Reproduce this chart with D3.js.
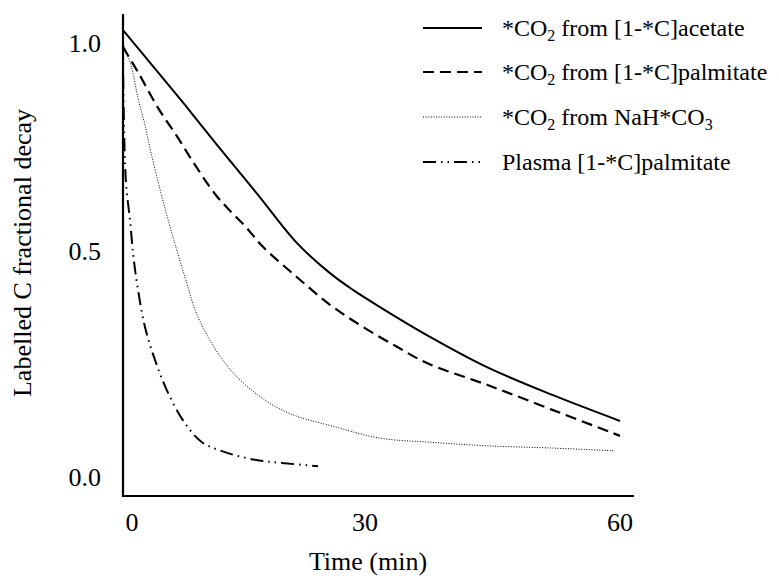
<!DOCTYPE html>
<html>
<head>
<meta charset="utf-8">
<script src="https://cdn.jsdelivr.net/npm/d3@7"></script>
<style>
  body { margin: 0; background: #fff; }
</style>
</head>
<body>
<svg id="chart" width="779" height="581"></svg>
<script>
// ---- data (time in min, fractional decay) ----
const acetateTime   = [-1.16, 2.45, 6.82, 11.07, 16.22, 21.25, 25.49, 28.45, 31.76, 37.65, 44.35, 52.12, 60];
const acetateValue  = [1.031, 0.950, 0.851, 0.752, 0.635, 0.519, 0.451, 0.414, 0.376, 0.310, 0.243, 0.181, 0.124];

const palmCO2Time   = [-1.16, 0.77, 3.35, 5.92, 8.11, 10.69, 12.75, 14.55, 16.87, 21.25, 25.49, 29.74, 33.76, 37.29, 44.35, 52.12, 60];
const palmCO2Value  = [0.990, 0.930, 0.844, 0.772, 0.707, 0.637, 0.594, 0.560, 0.510, 0.442, 0.381, 0.332, 0.288, 0.252, 0.204, 0.148, 0.091];

const bicarbTime    = [-1.16, -0.13, 0.77, 1.67, 2.45, 3.73, 5.02, 6.82, 8.50, 11.97, 15.84, 20.09, 26.14, 31.76, 37.65, 44.35, 52.12, 59.29];
const bicarbValue   = [0.998, 0.947, 0.868, 0.803, 0.736, 0.639, 0.550, 0.442, 0.354, 0.252, 0.186, 0.142, 0.111, 0.086, 0.077, 0.069, 0.064, 0.058];

const plasmaTime    = [-1.16, -1.09, -0.77, -0.26, 0.13, 0.64, 1.67, 2.96, 4.64, 6.82, 9.01, 11.97, 15.84, 19.31, 23.95];
const plasmaValue   = [0.995, 0.863, 0.663, 0.575, 0.496, 0.429, 0.332, 0.259, 0.186, 0.119, 0.077, 0.055, 0.038, 0.031, 0.024];

const xTicks = [0, 30, 60];
const yTicks = [0.0, 0.5, 1.0];
const seriesNames = ["*CO2 from [1-*C]acetate", "*CO2 from [1-*C]palmitate", "*CO2 from NaH*CO3", "Plasma [1-*C]palmitate"];

const FONT = "Liberation Serif";

// ---- scales (the original axis is slightly non-uniform, so polylinear) ----
const x = d3.scaleLinear().domain([0, 30, 60]).range([132, 365, 620]);
const y = d3.scaleLinear().domain([0, 0.5, 1]).range([477, 251, 43]);

const svg = d3.select("#chart");

const styles = [
  { dash: null,               width: 2.0 },
  { dash: "11,6",             width: 2.2 },
  { dash: "1,1.6",            width: 1.0 },
  { dash: "13,5,1.5,5,1.5,5", width: 2.0 }
];

const series = [
  { t: acetateTime, v: acetateValue },
  { t: palmCO2Time, v: palmCO2Value },
  { t: bicarbTime,  v: bicarbValue },
  { t: plasmaTime,  v: plasmaValue }
];

const line = d3.line().x(d => x(d[0])).y(d => y(d[1])).curve(d3.curveCatmullRom.alpha(0.5));

series.forEach((s, i) => {
  const pts = s.t.map((t, k) => [t, s.v[k]]);
  svg.append("path")
    .attr("d", line(pts))
    .attr("fill", "none")
    .attr("stroke", "#000")
    .attr("stroke-width", styles[i].width)
    .attr("stroke-dasharray", styles[i].dash);
});

// ---- axes (lines only, no tick marks) ----
svg.append("line").attr("x1", 123).attr("x2", 123).attr("y1", 14).attr("y2", 497)
  .attr("stroke", "#000").attr("stroke-width", 2.2);
svg.append("line").attr("x1", 122).attr("x2", 634).attr("y1", 496).attr("y2", 496)
  .attr("stroke", "#000").attr("stroke-width", 2.2);

svg.selectAll(".ytick").data(yTicks).enter().append("text")
  .attr("class", "ytick")
  .attr("x", 101).attr("y", d => y(d))
  .attr("text-anchor", "end").attr("dominant-baseline", "central")
  .attr("font-family", FONT).attr("font-size", 26)
  .text(d => d3.format(".1f")(d));

svg.selectAll(".xtick").data(xTicks).enter().append("text")
  .attr("class", "xtick")
  .attr("x", d => x(d)).attr("y", 522)
  .attr("text-anchor", "middle").attr("dominant-baseline", "central")
  .attr("font-family", FONT).attr("font-size", 26)
  .text(d => d);

svg.append("text")
  .attr("x", 368).attr("y", 561)
  .attr("text-anchor", "middle").attr("dominant-baseline", "central")
  .attr("font-family", FONT).attr("font-size", 26)
  .text("Time (min)");

svg.append("text")
  .attr("transform", "translate(22,253) rotate(-90)")
  .attr("text-anchor", "middle").attr("dominant-baseline", "central")
  .attr("font-family", FONT).attr("font-size", 26)
  .text("Labelled C fractional decay");

// ---- legend ----
const legendY = [28, 72, 117, 162];
seriesNames.forEach((name, i) => {
  svg.append("line")
    .attr("x1", 423).attr("x2", 482)
    .attr("y1", legendY[i]).attr("y2", legendY[i])
    .attr("stroke", "#000")
    .attr("stroke-width", styles[i].width)
    .attr("stroke-dasharray", styles[i].dash);
  const t = svg.append("text")
    .attr("x", 502).attr("y", legendY[i] + 8)
    .attr("font-family", FONT).attr("font-size", 24);
  const parts = name.split(/(CO[23])/).filter(p => p.length);
  let shift = 0;
  parts.forEach(p => {
    if (/^CO[23]$/.test(p)) {
      t.append("tspan").attr("dy", -shift).text("CO");
      t.append("tspan").attr("dy", 5).attr("font-size", 16).text(p.slice(2));
      shift = 5;
    } else {
      t.append("tspan").attr("dy", -shift).text(p);
      shift = 0;
    }
  });
});
</script>
</body>
</html>
